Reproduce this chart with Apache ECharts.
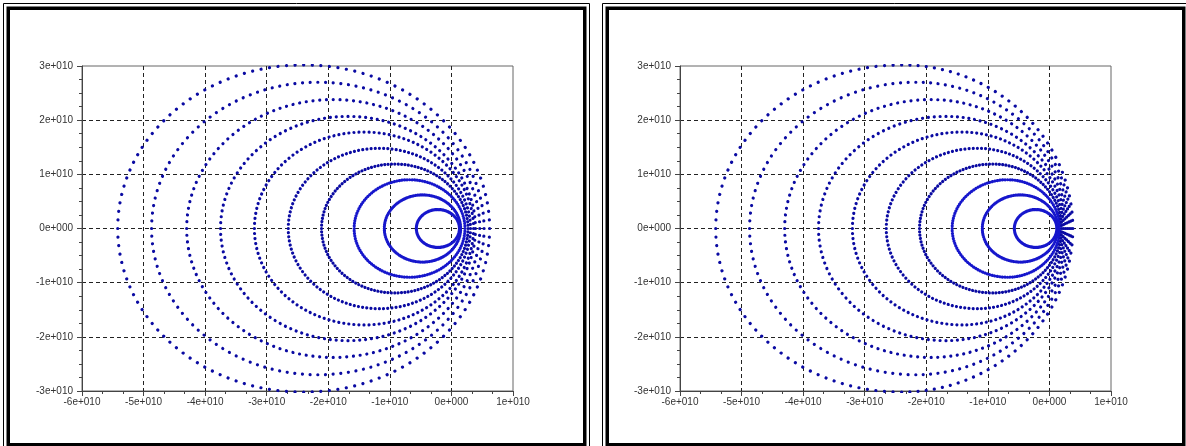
<!DOCTYPE html>
<html><head><meta charset="utf-8">
<script src="https://cdn.jsdelivr.net/npm/echarts@6/dist/echarts.min.js"></script>
<style>html,body{margin:0;padding:0;background:#fff}#c{width:1186px;height:446px}</style>
</head><body><div id="c"></div>
<script>
// axis ticks (values in units of 1e10)
const xTickValues = [-6, -5, -4, -3, -2, -1, 0, 1];
const xTickLabels = ['-6e+010', '-5e+010', '-4e+010', '-3e+010', '-2e+010', '-1e+010', '0e+000', '1e+010'];
const yTickValues = [-3, -2, -1, 0, 1, 2, 3];
const yTickLabels = ['-3e+010', '-2e+010', '-1e+010', '0e+000', '1e+010', '2e+010', '3e+010'];

// closed curves (units of 1e10):
// leftmost x on the axis, x of the highest point, rightmost x on the axis, half height
const leftPanelLeftX      = [-0.57, -1.09, -1.58, -2.11, -2.65, -3.20, -3.75, -4.30, -4.87, -5.42];
const leftPanelTopX       = [-0.22, -0.47, -0.68, -0.92, -1.17, -1.42, -1.68, -1.92, -2.17, -2.40];
const leftPanelRightX     = [0.13, 0.15, 0.22, 0.27, 0.31, 0.36, 0.39, 0.46, 0.53, 0.62];
const leftPanelHalfHeight = [0.35, 0.62, 0.90, 1.19, 1.48, 1.78, 2.07, 2.38, 2.70, 3.02];

const rightPanelLeftX      = [-0.57, -1.09, -1.58, -2.11, -2.65, -3.20, -3.75, -4.30, -4.87, -5.42];
const rightPanelTopX       = [-0.22, -0.47, -0.68, -0.92, -1.17, -1.42, -1.68, -1.92, -2.17, -2.40];
const rightPanelRightX     = [0.12, 0.14, 0.17, 0.20, 0.23, 0.26, 0.29, 0.32, 0.35, 0.38];
const rightPanelHalfHeight = [0.35, 0.62, 0.90, 1.19, 1.48, 1.78, 2.07, 2.38, 2.70, 3.02];

const dotsPerCurve = 128;
const denseColor = '#1616cc';
const dotColor = '#0a0aa2';
const chart = echarts.init(document.getElementById('c'), null, {renderer: 'canvas'});

function rows(a, t, b, h) { return a.map((v, i) => [v, t[i], b[i], h[i]]); }

function quarterLen(rx, ry) {
  const hh = Math.pow(rx - ry, 2) / Math.pow(rx + ry, 2);
  return Math.PI * (rx + ry) * (1 + 3 * hh / (10 + Math.sqrt(4 - 3 * hh))) / 4;
}

function renderCurve(params, api) {
  const pL = api.coord([api.value(0), 0]);
  const pT = api.coord([api.value(1), api.value(3)]);
  const pR = api.coord([api.value(2), 0]);
  const pB = api.coord([api.value(1), -api.value(3)]);
  const cy = pL[1];
  const k = 0.5522848;
  const rxL = pT[0] - pL[0], rxR = pR[0] - pT[0];
  const ryT = cy - pT[1], ryB = pB[1] - cy;
  const cs = params.coordSys;
  const clip = {type: 'rect', shape: {x: cs.x - 2, y: cs.y - 2, width: cs.width + 4, height: cs.height + 4}};
  const n = dotsPerCurve / 4;
  const color = params.dataIndex < 3 ? denseColor : dotColor;
  function seg(x1, y1, c1x, c1y, c2x, c2y, x2, y2, rx, ry) {
    const step = quarterLen(rx, ry) / n;
    return {
      type: 'bezierCurve',
      shape: {x1: x1, y1: y1, cpx1: c1x, cpy1: c1y, cpx2: c2x, cpy2: c2y, x2: x2, y2: y2},
      style: {fill: 'none', stroke: color, lineWidth: 3.2, lineDash: [0.01, step - 0.01], lineCap: 'round'},
      clipPath: clip
    };
  }
  const xT = pT[0];
  return {
    type: 'group',
    children: [
      seg(pL[0], cy, pL[0], cy - k * ryT, xT - k * rxL, pT[1], xT, pT[1], rxL, ryT),
      seg(xT, pT[1], xT + k * rxR, pT[1], pR[0], cy - k * ryT, pR[0], cy, rxR, ryT),
      seg(pR[0], cy, pR[0], cy + k * ryB, xT + k * rxR, pB[1], xT, pB[1], rxR, ryB),
      seg(xT, pB[1], xT - k * rxL, pB[1], pL[0], cy + k * ryB, pL[0], cy, rxL, ryB)
    ]
  };
}

function fmt(vals, labels) {
  return function (v) { const i = vals.indexOf(Math.round(v)); return i >= 0 ? labels[i] : ''; };
}

const labelStyle = {color: '#333', fontSize: 10, fontFamily: 'Liberation Sans, Arial, sans-serif'};
function xAxis(idx) {
  return {
    type: 'value', gridIndex: idx, min: -6, max: 1, interval: 1,
    axisLine: {show: true, onZero: false, lineStyle: {color: '#444', width: 1}},
    axisTick: {show: true, inside: false, length: 5, lineStyle: {color: '#444'}},
    minorTick: {show: true, splitNumber: 3, length: 3, lineStyle: {color: '#444'}},
    axisLabel: Object.assign({margin: 6, formatter: fmt(xTickValues, xTickLabels)}, labelStyle),
    splitLine: {show: true, showMinLine: false, showMaxLine: false, lineStyle: {color: '#222', type: [4, 3], width: 1}}
  };
}
function yAxis(idx) {
  return {
    type: 'value', gridIndex: idx, min: -3, max: 3, interval: 1,
    axisLine: {show: true, onZero: false, lineStyle: {color: '#444', width: 1}},
    axisTick: {show: true, inside: false, length: 5, lineStyle: {color: '#444'}},
    minorTick: {show: true, splitNumber: 4, length: 3, lineStyle: {color: '#444'}},
    axisLabel: Object.assign({margin: 9, formatter: fmt(yTickValues, yTickLabels)}, labelStyle),
    splitLine: {show: true, showMinLine: false, showMaxLine: false, lineStyle: {color: '#222', type: [4, 3], width: 1}}
  };
}

function frame(dx) {
  return [
    {type: 'rect', shape: {x: 3.5 + dx, y: 3.5, width: 586, height: 446}, style: {fill: 'none', stroke: '#000', lineWidth: 1}, z: 100},
    {type: 'rect', shape: {x: 8.25 + dx, y: 8.25, width: 576.5, height: 436.5}, style: {fill: 'none', stroke: '#000', lineWidth: 3.5}, z: 100}
  ];
}

chart.setOption({
  animation: false,
  backgroundColor: '#fff',
  grid: [
    {left: 82, top: 66, width: 431, height: 325, show: true, borderColor: '#666', borderWidth: 1, backgroundColor: '#fff'},
    {left: 680, top: 66, width: 431, height: 325, show: true, borderColor: '#666', borderWidth: 1, backgroundColor: '#fff'}
  ],
  xAxis: [xAxis(0), xAxis(1)],
  yAxis: [yAxis(0), yAxis(1)],
  graphic: frame(0).concat(frame(599)),
  series: [
    {type: 'custom', xAxisIndex: 0, yAxisIndex: 0, silent: true, renderItem: renderCurve,
     data: rows(leftPanelLeftX, leftPanelTopX, leftPanelRightX, leftPanelHalfHeight), z: 3},
    {type: 'custom', xAxisIndex: 1, yAxisIndex: 1, silent: true, renderItem: renderCurve,
     data: rows(rightPanelLeftX, rightPanelTopX, rightPanelRightX, rightPanelHalfHeight), z: 3}
  ]
});
</script>
</body></html>
